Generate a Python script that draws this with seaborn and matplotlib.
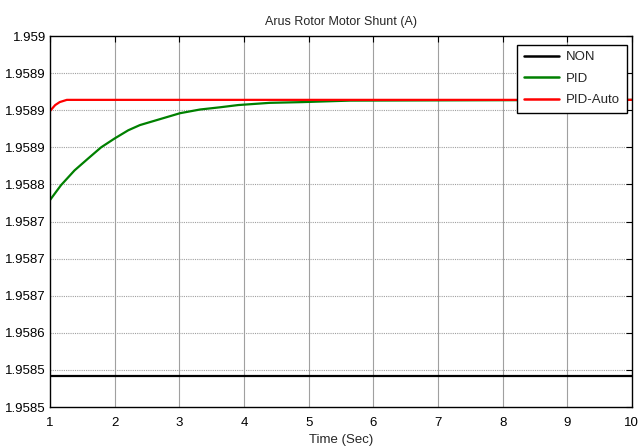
"""
Arus Rotor Motor Shunt (A) - NON vs PID vs PID-Auto response.
"""
import numpy as np
import pandas as pd
import matplotlib
matplotlib.use("Agg")
import matplotlib.pyplot as plt
import seaborn as sns

# values
time_non = [1.0, 10.0]
current_non = [1.958542, 1.958542]

time_pid = [1.0, 1.17, 1.38, 1.59, 1.79, 2.0, 2.21, 2.39, 2.70, 3.01, 3.32,
            3.63, 3.91, 4.40, 4.91, 5.64, 10.0]
current_pid = [1.958779, 1.958799, 1.958819, 1.958835, 1.958850, 1.958862,
               1.958873, 1.958880, 1.958888, 1.958896, 1.958901, 1.958904,
               1.958907, 1.958910, 1.958911, 1.958913, 1.958914]

time_auto = [1.0, 1.08, 1.15, 1.26, 10.0]
current_auto = [1.958899, 1.958907, 1.958911, 1.958914, 1.958914]

x_ticks = [1, 2, 3, 4, 5, 6, 7, 8, 9, 10]
y_ticks = [1.95850, 1.95855, 1.95860, 1.95865, 1.95870, 1.95875,
           1.95880, 1.95885, 1.95890, 1.95895, 1.95900]
y_tick_labels = ["1.9585", "1.9585", "1.9586", "1.9587", "1.9587", "1.9587",
                 "1.9588", "1.9589", "1.9589", "1.9589", "1.959"]

series = ["NON", "PID", "PID-Auto"]
colors = {"NON": "black", "PID": "#008000", "PID-Auto": "#ff0000"}

df = pd.concat([
    pd.DataFrame({"t": time_non, "i": current_non, "ctrl": "NON"}),
    pd.DataFrame({"t": time_pid, "i": current_pid, "ctrl": "PID"}),
    pd.DataFrame({"t": time_auto, "i": current_auto, "ctrl": "PID-Auto"}),
], ignore_index=True)

sns.set_style("white")
plt.rcParams["font.family"] = ["Liberation Sans", "DejaVu Sans"]

fig = plt.figure(figsize=(6.38, 4.48), dpi=100)
ax = fig.add_axes([0.0784, 0.0915, 0.912, 0.828])

ax.grid(False)
for yt in y_ticks[1:-1]:
    ax.axhline(yt, color="#a0a0a0", lw=0.8, ls=(0, (1, 1)), zorder=0)
for xt in x_ticks[1:-1]:
    ax.axvline(xt, color="#a0a0a0", lw=0.8, zorder=0)

sns.lineplot(data=df, x="t", y="i", hue="ctrl", hue_order=series, palette=colors,
             linewidth=1.6, estimator=None, sort=False, ax=ax)

ax.set_xlim(1, 10)
ax.set_ylim(1.9585, 1.959)
ax.set_xticks(x_ticks)
ax.set_xticklabels([str(v) for v in x_ticks])
ax.set_yticks(y_ticks)
ax.set_yticklabels(y_tick_labels)
ax.tick_params(direction="in", length=4, width=0.8, top=True, right=True,
               labelsize=9.5, colors="black", pad=3)
ax.tick_params(axis="x", pad=7)
for s in ax.spines.values():
    s.set_visible(True)
    s.set_color("black")
    s.set_linewidth(1.0)

ax.set_title("Arus Rotor Motor Shunt (A)", fontsize=9, pad=8)
ax.set_xlabel("Time (Sec)", fontsize=9.5, labelpad=4)
ax.set_ylabel("")

leg = ax.legend(loc="upper right", bbox_to_anchor=(0.991, 0.977), fontsize=9.5,
                frameon=True, fancybox=False, shadow=False, framealpha=1.0,
                borderpad=0.5, handlelength=2.7, handletextpad=0.5,
                labelspacing=0.7, borderaxespad=0.0)
leg.get_frame().set_edgecolor("black")
leg.get_frame().set_linewidth(1.0)
for line in leg.get_lines():
    line.set_linewidth(1.8)

fig.savefig("out.png", dpi=100)
